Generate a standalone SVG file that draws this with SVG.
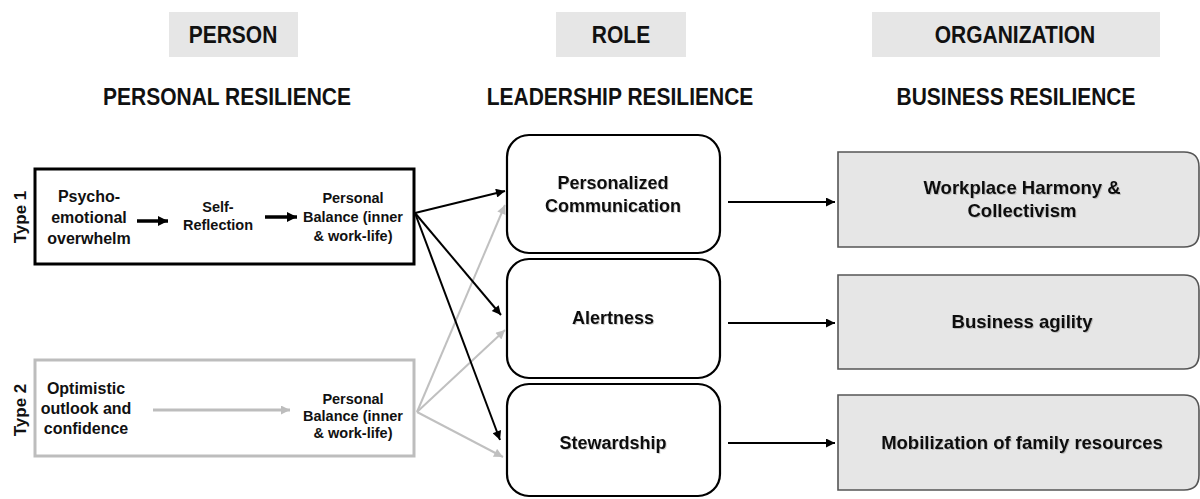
<svg xmlns="http://www.w3.org/2000/svg" width="1200" height="499" viewBox="0 0 1200 499">
  <style>
    text { font-family: "Liberation Sans", Arial, sans-serif; font-weight: bold; fill: #111; text-anchor: middle; }
    .hdr { font-size: 21px; }
    .small { font-size: 16px; }
    .tiny { font-size: 14.5px; }
    .bal { font-size: 14.5px; }
    .mid { font-size: 18px; filter: url(#soft); }
    .out { font-size: 18.5px; filter: url(#soft); }
    .type { font-size: 17px; }
    .tab { fill: #e6e6e6; }
    .frame1 { fill: #fff; stroke: #000; stroke-width: 3; }
    .frame2 { fill: #fff; stroke: #bdbdbd; stroke-width: 3; }
    .role { fill: #fff; stroke: #000; stroke-width: 2.2; }
    .org { fill: #e6e6e6; stroke: #555; stroke-width: 1.6; }
    .blk { stroke: #000; stroke-width: 2; fill: none; marker-end: url(#ahB); }
    .gry { stroke: #c0c0c0; stroke-width: 2; fill: none; marker-end: url(#ahG); }
    .thick { stroke: #000; stroke-width: 3.5; fill: none; marker-end: url(#ahBs); }
    .thickg { stroke: #bdbdbd; stroke-width: 3; fill: none; marker-end: url(#ahGs); }
  </style>
  <defs>
    <filter id="soft" x="-5%" y="-20%" width="110%" height="140%">
      <feDropShadow dx="1" dy="1" stdDeviation="0.7" flood-color="#000" flood-opacity="0.18"/>
    </filter>
    <marker id="ahB" viewBox="0 0 10 10" refX="10" refY="5" markerWidth="11" markerHeight="9" markerUnits="userSpaceOnUse" orient="auto">
      <path d="M0,0 L10,5 L0,10 z" fill="#000"/>
    </marker>
    <marker id="ahG" viewBox="0 0 10 10" refX="10" refY="5" markerWidth="11" markerHeight="9" markerUnits="userSpaceOnUse" orient="auto">
      <path d="M0,0 L10,5 L0,10 z" fill="#c0c0c0"/>
    </marker>
    <marker id="ahBs" viewBox="0 0 10 10" refX="10" refY="5" markerWidth="11" markerHeight="10" markerUnits="userSpaceOnUse" orient="auto">
      <path d="M0,0 L10,5 L0,10 z" fill="#000"/>
    </marker>
    <marker id="ahGs" viewBox="0 0 10 10" refX="10" refY="5" markerWidth="10" markerHeight="9" markerUnits="userSpaceOnUse" orient="auto">
      <path d="M0,0 L10,5 L0,10 z" fill="#bdbdbd"/>
    </marker>
  </defs>

  <!-- column tabs and headings (headings drawn slightly tall) -->
  <g id="col-person">
    <rect class="tab" x="169" y="12" width="129" height="45"/>
    <text class="hdr" transform="translate(233,43) scale(1,1.15)">PERSON</text>
    <text class="hdr" transform="translate(227,105) scale(1,1.15)">PERSONAL RESILIENCE</text>
  </g>
  <g id="col-role">
    <rect class="tab" x="556" y="12" width="130" height="45"/>
    <text class="hdr" transform="translate(621,43) scale(1,1.15)">ROLE</text>
    <text class="hdr" transform="translate(620,105) scale(1,1.15)">LEADERSHIP RESILIENCE</text>
  </g>
  <g id="col-org">
    <rect class="tab" x="872" y="12" width="288" height="45"/>
    <text class="hdr" transform="translate(1015,43) scale(1,1.15)">ORGANIZATION</text>
    <text class="hdr" transform="translate(1016,105) scale(1,1.15)">BUSINESS RESILIENCE</text>
  </g>

  <!-- Type 1 pathway -->
  <g id="type1">
    <rect class="frame1" x="35" y="169" width="379" height="95"/>
    <text class="type" transform="translate(26,217) rotate(-90)">Type 1</text>
    <text class="small" x="89" y="202">Psycho-</text>
    <text class="small" x="89" y="223">emotional</text>
    <text class="small" x="89" y="244">overwhelm</text>
    <text class="tiny" x="218" y="212">Self-</text>
    <text class="tiny" x="218" y="230">Reflection</text>
    <text class="bal" x="353" y="203">Personal</text>
    <text class="bal" x="353" y="222">Balance (inner</text>
    <text class="bal" x="353" y="241">&amp; work-life)</text>
    <path class="thick" d="M137,221 H168"/>
    <path class="thick" d="M265,217 H297"/>
  </g>

  <!-- Type 2 pathway -->
  <g id="type2">
    <rect class="frame2" x="35" y="360" width="379" height="96"/>
    <text class="type" transform="translate(26,410) rotate(-90)">Type 2</text>
    <text class="small" x="86" y="394">Optimistic</text>
    <text class="small" x="86" y="414">outlook and</text>
    <text class="small" x="86" y="434">confidence</text>
    <text class="bal" x="353" y="404">Personal</text>
    <text class="bal" x="353" y="421">Balance (inner</text>
    <text class="bal" x="353" y="438">&amp; work-life)</text>
    <path class="thickg" d="M153,410 H290"/>
  </g>

  <!-- leadership resilience -->
  <g id="personalized-communication">
    <rect class="role" x="507" y="135" width="213" height="118" rx="22"/>
    <text class="mid" x="613" y="189">Personalized</text>
    <text class="mid" x="613" y="212">Communication</text>
  </g>
  <g id="alertness">
    <rect class="role" x="507" y="259" width="213" height="119" rx="22"/>
    <text class="mid" x="613" y="324">Alertness</text>
  </g>
  <g id="stewardship">
    <rect class="role" x="507" y="384" width="213" height="112" rx="22"/>
    <text class="mid" x="613" y="449">Stewardship</text>
  </g>

  <!-- business resilience -->
  <g id="workplace-harmony">
    <path class="org" d="M838,152 H1184 Q1199,152 1199,167 V232 Q1199,247 1184,247 H838 Z"/>
    <text class="out" x="1022" y="194">Workplace Harmony &amp;</text>
    <text class="out" x="1022" y="217">Collectivism</text>
  </g>
  <g id="business-agility">
    <path class="org" d="M838,275 H1184 Q1199,275 1199,290 V354 Q1199,369 1184,369 H838 Z"/>
    <text class="out" x="1022" y="328">Business agility</text>
  </g>
  <g id="family-resources">
    <path class="org" d="M838,395 H1184 Q1199,395 1199,410 V475 Q1199,490 1184,490 H838 Z"/>
    <text class="out" x="1022" y="449">Mobilization of family resources</text>
  </g>

  <!-- connectors -->
  <g id="connectors">
    <path class="gry" d="M417,412 L505,205"/>
    <path class="gry" d="M417,412 L505,330"/>
    <path class="gry" d="M417,412 L503,457"/>
    <path class="blk" d="M415,213 L505,191"/>
    <path class="blk" d="M415,213 L501,315"/>
    <path class="blk" d="M415,213 L500,440"/>
    <path class="blk" d="M728,202 H835"/>
    <path class="blk" d="M728,323 H835"/>
    <path class="blk" d="M728,443 H835"/>
  </g>
</svg>
